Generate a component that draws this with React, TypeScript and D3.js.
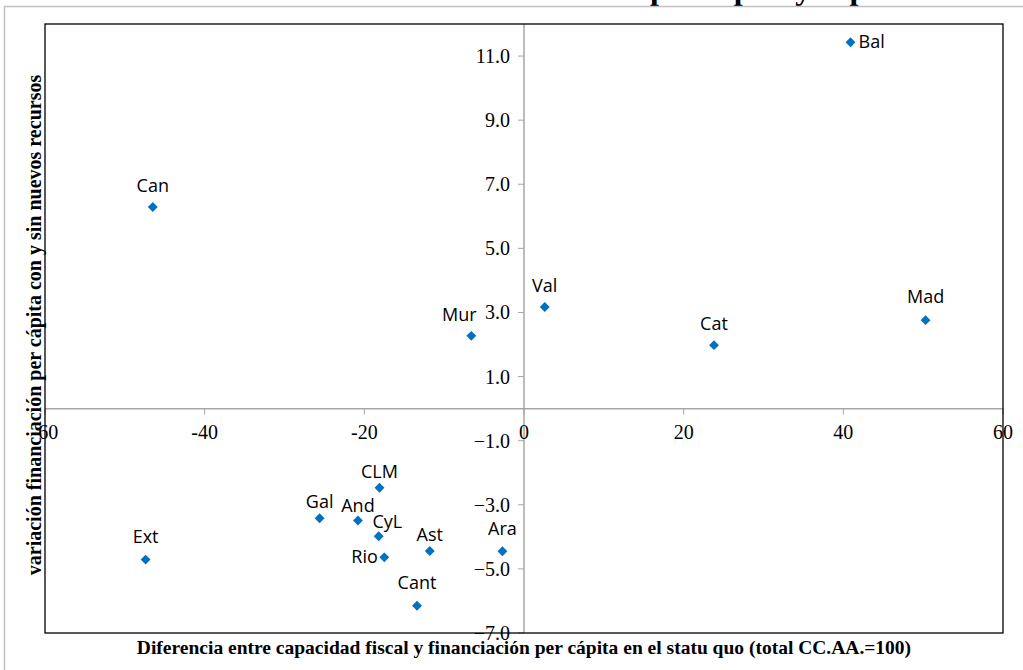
import React from "react";
import * as d3 from "d3";

// ---- Data ----
const regions = ["Bal", "Can", "Val", "Mur", "Cat", "Mad", "CLM", "Gal", "And", "CyL", "Rio", "Ast", "Ara", "Ext", "Cant"];
const capacidadDiff = [40.9, -46.5, 2.6, -6.6, 23.8, 50.3, -18.1, -25.6, -20.8, -18.2, -17.5, -11.8, -2.7, -47.4, -13.4];
const variacionFin = [11.43, 6.29, 3.17, 2.27, 1.98, 2.76, -2.47, -3.42, -3.49, -3.98, -4.64, -4.44, -4.45, -4.71, -6.15];

const xTicks = [-60, -40, -20, 0, 20, 40, 60];
const yTicks = [-7, -5, -3, -1, 1, 3, 5, 7, 9, 11];

const xTitle = "Diferencia entre capacidad fiscal y financiación per cápita en el statu quo (total CC.AA.=100)";
const yTitle = "variación financiación per cápita con y sin nuevos recursos";
const titleLeft = "Variación de la financiación ";
const titleRight = "per cápita y capacidad fiscal per cápita";

// ---- Label placement (layout only) ----
const labelLayout: Record<string, { anchor: string; dx: number; dy: number }> = {
  Bal: { anchor: "start", dx: 8, dy: 6 },
  Rio: { anchor: "end", dx: -6.5, dy: 6 },
  Mur: { anchor: "middle", dx: -12, dy: -15 },
  CLM: { anchor: "middle", dx: 0, dy: -9.5 },
  Gal: { anchor: "middle", dx: 0, dy: -10 },
  And: { anchor: "middle", dx: 0, dy: -8 },
  CyL: { anchor: "middle", dx: 8.7, dy: -8 },
  Ast: { anchor: "middle", dx: 0, dy: -9.5 },
  Mad: { anchor: "middle", dx: 0, dy: -17 },
  Ext: { anchor: "middle", dx: 0, dy: -17 },
  Cant: { anchor: "middle", dx: 0, dy: -16.5 },
  Ara: { anchor: "middle", dx: 0, dy: -16 },
};
const defaultLayout = { anchor: "middle", dx: 0, dy: -15 };

const W = 1023;
const H = 670;
const plot = { left: 45, right: 1003, top: 24, bottom: 633 };

export default function App() {
  const x = d3.scaleLinear().domain([-60, 60]).range([plot.left, plot.right]);
  const y = d3.scaleLinear().domain([-7, 12]).range([plot.bottom, plot.top]);
  const x0 = x(0);
  const y0 = y(0);
  const fmtY = d3.format(".1f");
  const serif = "'Liberation Serif', 'Times New Roman', serif";
  const sans = "'Open Sans', 'Noto Sans', sans-serif";
  const diamond = d3.symbol().type(d3.symbolDiamond2).size(62)() as string;
  const axisColor = "#a6a6a6";

  return (
    <svg width={W} height={H} style={{ position: "absolute", left: 0, top: 0, background: "#fff" }}>
      {/* cut-off title */}
      <text x={650} y={-1.5} textAnchor="end" fontFamily={serif} fontWeight="bold" fontSize={32} fill="#000">
        {titleLeft}
      </text>
      <text x={650} y={-1.5} textAnchor="start" fontFamily={serif} fontWeight="bold" fontSize={32} fill="#000">
        {titleRight}
      </text>
      {/* outer chart frame */}
      <rect x={4.5} y={6.5} width={1100} height={700} fill="#fff" stroke="#c0c0c0" strokeWidth={1.5} />
      {/* plot area */}
      <rect x={plot.left} y={plot.top} width={plot.right - plot.left} height={plot.bottom - plot.top} fill="#fff" />
      {/* zero axes */}
      <line x1={plot.left} x2={plot.right} y1={y0} y2={y0} stroke={axisColor} strokeWidth={1.5} />
      <line x1={x0} x2={x0} y1={plot.top} y2={plot.bottom} stroke={axisColor} strokeWidth={1.5} />
      {/* x ticks */}
      {xTicks.map((t) => (
        <g key={"xt" + t}>
          <line x1={x(t)} x2={x(t)} y1={y0} y2={y0 + 6} stroke={axisColor} strokeWidth={1} />
          <text x={x(t)} y={y0 + 30} textAnchor="middle" fontFamily={serif} fontSize={20} fill="#000">
            {String(t)}
          </text>
        </g>
      ))}
      {/* y ticks */}
      {yTicks.map((t) => (
        <g key={"yt" + t}>
          <line x1={x0 - 6} x2={x0} y1={y(t)} y2={y(t)} stroke={axisColor} strokeWidth={1} />
          <text x={x0 - 14} y={y(t) + 7} textAnchor="end" fontFamily={serif} fontSize={20} fill="#000">
            {fmtY(t)}
          </text>
        </g>
      ))}
      {/* points */}
      {regions.map((r, i) => (
        <path key={"p" + r} d={diamond} transform={`translate(${x(capacidadDiff[i])},${y(variacionFin[i])})`} fill="#0070C0" />
      ))}
      {/* labels */}
      {regions.map((r, i) => {
        const l = labelLayout[r] || defaultLayout;
        return (
          <text
            key={"l" + r}
            x={x(capacidadDiff[i]) + l.dx}
            y={y(variacionFin[i]) + l.dy}
            textAnchor={l.anchor as any}
            fontFamily={sans}
            fontSize={18}
            fill="#000"
          >
            {r}
          </text>
        );
      })}
      {/* plot frame */}
      <rect
        x={plot.left}
        y={plot.top}
        width={plot.right - plot.left}
        height={plot.bottom - plot.top}
        fill="none"
        stroke="#000"
        strokeWidth={1.3}
      />
      {/* axis titles */}
      <text x={(plot.left + plot.right) / 2} y={654} textAnchor="middle" fontFamily={serif} fontWeight="bold" fontSize={19.5} fill="#000">
        {xTitle}
      </text>
      <text
        transform={`translate(41,325) rotate(-90)`}
        textAnchor="middle"
        fontFamily={serif}
        fontWeight="bold"
        fontSize={20}
        fill="#000"
      >
        {yTitle}
      </text>
    </svg>
  );
}
